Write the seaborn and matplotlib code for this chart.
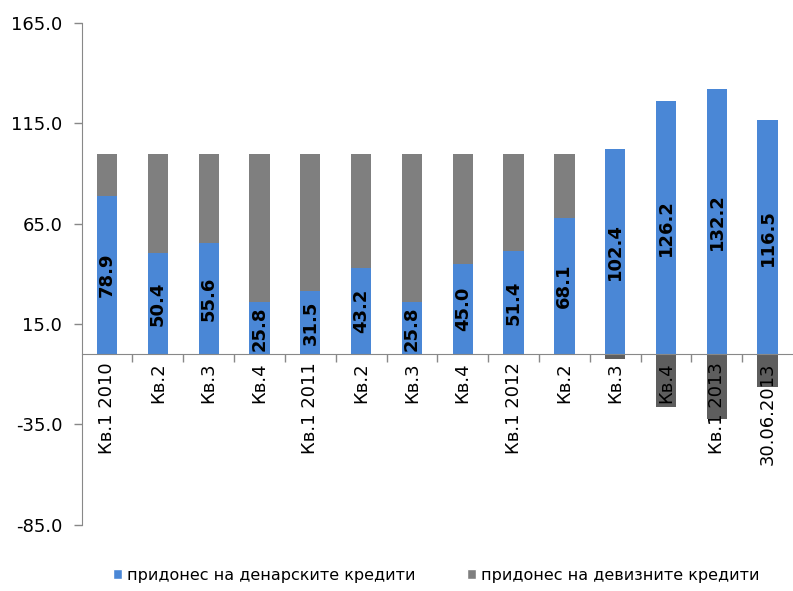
import numpy as np
import pandas as pd
import seaborn as sns
import matplotlib.pyplot as plt
from matplotlib.patches import Patch

# quarter labels (x axis)
quarters = ["Кв.1 2010", "Кв.2", "Кв.3", "Кв.4",
            "Кв.1 2011", "Кв.2", "Кв.3", "Кв.4",
            "Кв.1 2012", "Кв.2", "Кв.3", "Кв.4",
            "Кв.1 2013", "30.06.2013"]

# contribution of denar loans (blue) and foreign currency loans (grey)
denar = [78.9, 50.4, 55.6, 25.8, 31.5, 43.2, 25.8, 45.0, 51.4, 68.1, 102.4, 126.2, 132.2, 116.5]
foreign = [21.1, 49.6, 44.4, 74.2, 68.5, 56.8, 74.2, 55.0, 48.6, 31.9, -2.4, -26.2, -32.2, -16.5]

y_ticks = [165.0, 115.0, 65.0, 15.0, -35.0, -85.0]

legend_labels = ["придонес на денарските кредити", "придонес на девизните кредити"]

blue = "#4a87d6"
grey = "#7f7f7f"
dark_grey = "#5e5e5e"

df = pd.DataFrame({"pos": np.arange(len(quarters)), "denar": denar, "foreign": foreign})
# grey stacked on top of blue when positive, hanging below zero when negative
df["grey_top"] = np.where(df.foreign > 0, df.denar + df.foreign, df.foreign)

sns.set_style("white")
plt.rcParams["font.family"] = ["DejaVu Sans"]

fig = plt.figure(figsize=(7.93, 5.91), dpi=100)
ax = fig.add_axes([0.103, 0.112, 0.897, 0.849])

grey_cols = [grey if v > 0 else dark_grey for v in df.foreign]
sns.barplot(data=df, x="pos", y="grey_top", hue="pos", palette=grey_cols, legend=False,
            width=0.4, ax=ax, edgecolor="none", saturation=1, zorder=2)
sns.barplot(data=df, x="pos", y="denar", color=blue, width=0.4, ax=ax,
            edgecolor="none", saturation=1, zorder=3)

# value labels inside blue bars
for i, v in enumerate(denar):
    ax.text(i, v / 2, f"{v:.1f}", rotation=90, ha="center", va="center",
            fontsize=13, fontweight="bold", color="black", zorder=4)

ax.set_xlim(-0.5, len(quarters) - 0.5)
ax.set_ylim(-85, 165)
ax.set_yticks(y_ticks)
ax.set_yticklabels([f"{t:.1f}" for t in y_ticks])

ax.set_xticks(range(len(quarters)))
ax.set_xticklabels(quarters)
ax.set_xticks(np.arange(0.5, len(quarters) - 0.5, 1), minor=True)
ax.tick_params(axis="x", which="major", length=0, pad=6, labelrotation=90,
               labelsize=13, labelcolor="black")
ax.tick_params(axis="x", which="minor", bottom=True, length=6, width=1,
               color="#888888", direction="out")
ax.tick_params(axis="y", length=6, width=1, color="#888888", direction="out",
               left=True, labelsize=13, labelcolor="black", pad=8)
for lab in ax.get_xticklabels():
    lab.set_verticalalignment("top")
ax.xaxis.set_zorder(6)

ax.set_xlabel("")
ax.set_ylabel("")
for s in ["top", "right"]:
    ax.spines[s].set_visible(False)
ax.spines["bottom"].set_position(("data", 0))
ax.spines["bottom"].set_color("#888888")
ax.spines["bottom"].set_zorder(5)
ax.spines["left"].set_color("#888888")

handles = [Patch(facecolor=blue, label=legend_labels[0]),
           Patch(facecolor=grey, label=legend_labels[1])]
leg = fig.legend(handles=handles, loc="lower center", bbox_to_anchor=(0.55, -0.01), ncol=2,
                 frameon=False, fontsize=11.5, handlelength=0.6, handleheight=0.6,
                 handletextpad=0.3, columnspacing=3.2)
for t in leg.get_texts():
    t.set_color("black")

fig.savefig("out.png", dpi=100)
